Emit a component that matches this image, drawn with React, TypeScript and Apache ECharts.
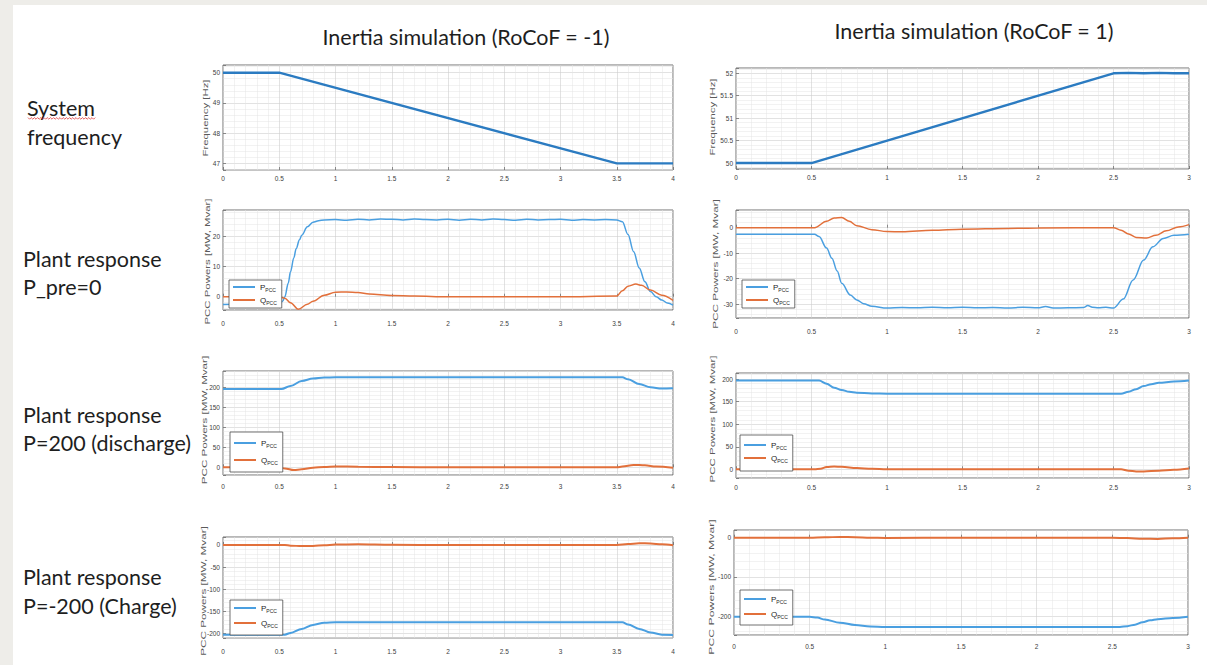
import { useEffect, useRef } from "react";
import * as echarts from "echarts";

// ---------- tick labels ----------
const xTicksRoCoFMinus = [0, 0.5, 1, 1.5, 2, 2.5, 3, 3.5, 4];
const xTicksRoCoFPlus = [0, 0.5, 1, 1.5, 2, 2.5, 3];
const freqTicksMinus = [47, 48, 49, 50];
const freqTicksPlus = [50, 50.5, 51, 51.5, 52];
const pre0TicksMinus = [0, 10, 20];
const pre0TicksPlus = [-30, -20, -10, 0];
const dis200TicksMinus = [0, 50, 100, 150, 200];
const dis200TicksPlus = [0, 50, 100, 150, 200];
const chg200TicksMinus = [-200, -150, -100, -50, 0];
const chg200TicksPlus = [-200, -100, 0];

// ---------- text ----------
const columnTitles = ["Inertia simulation (RoCoF = -1)", "Inertia simulation (RoCoF = 1)"];
const rowLabels = [
  ["System", "frequency"],
  ["Plant response", "P_pre=0"],
  ["Plant response", "P=200 (discharge)"],
  ["Plant response", "P=-200 (Charge)"],
];

// ---------- system frequency ----------
const freqMinusTime = [0, 0.5, 3.5, 4];
const freqMinusHz = [50, 50, 47, 47];
const freqPlusTime = [0, 0.5, 2.5, 2.6, 2.7, 2.8, 2.9, 3];
const freqPlusHz = [50, 50, 52, 52.01, 52, 52.01, 52, 52];

// ---------- P_pre = 0 ----------
const pre0MinusPTime = [0, 0.1, 0.2, 0.3, 0.4, 0.5, 0.53, 0.55, 0.58, 0.6, 0.63, 0.65, 0.68, 0.7, 0.75, 0.8, 0.85, 0.9, 1.0, 1.1, 1.2, 1.3, 1.4, 1.5, 1.6, 1.7, 1.8, 1.9, 2.0, 2.1, 2.2, 2.3, 2.4, 2.5, 2.6, 2.7, 2.8, 2.9, 3.0, 3.1, 3.2, 3.3, 3.4, 3.5, 3.55, 3.6, 3.65, 3.7, 3.75, 3.8, 3.85, 3.9, 3.95, 4.0];
const pre0MinusP = [-2.6, -2.5, -2.6, -2.5, -2.6, -2.6, -1.5, 0, 4.5, 8.3, 13, 16, 19, 20.5, 23.3, 24.8, 25.3, 25.6, 25.7, 25.5, 25.8, 25.6, 25.9, 25.8, 25.6, 25.9, 25.7, 25.6, 25.8, 25.5, 25.8, 25.6, 25.9, 25.7, 25.5, 25.8, 25.6, 25.7, 25.8, 25.5, 25.7, 25.6, 25.7, 25.6, 25, 20.7, 15, 9.6, 5, 1.7, 0, -1.1, -2.1, -2.8];
const pre0MinusQTime = [0, 0.5, 0.55, 0.6, 0.67, 0.75, 0.8, 0.9, 1.0, 1.1, 1.2, 1.3, 1.5, 1.7, 2.0, 2.5, 3.0, 3.5, 3.55, 3.6, 3.67, 3.72, 3.8, 3.9, 4.0];
const pre0MinusQ = [0, 0, -0.5, -2, -4.2, -2.5, -1.5, 0.5, 1.5, 1.6, 1.4, 0.9, 0.4, 0.2, 0, 0, 0, 0.2, 2, 3.5, 4.2, 3.8, 2.2, 0.5, -1.2];

const pre0PlusPTime = [0, 0.25, 0.52, 0.55, 0.6, 0.635, 0.67, 0.7, 0.757, 0.8, 0.845, 0.9, 1.0, 1.1, 1.2, 1.3, 1.4, 1.5, 1.6, 1.7, 1.8, 1.9, 2.0, 2.05, 2.1, 2.2, 2.3, 2.33, 2.36, 2.4, 2.45, 2.5, 2.565, 2.63, 2.7, 2.76, 2.83, 2.9, 3.0];
const pre0PlusP = [-2.6, -2.6, -2.6, -3.5, -8, -12, -17, -21.8, -26.4, -28.3, -29.8, -30.8, -31.5, -31.3, -31.4, -31.2, -31.4, -31.2, -31.4, -31.3, -31.5, -31.2, -31.4, -30.9, -31.5, -31.4, -31.3, -30.5, -31.2, -31.4, -31.2, -31.5, -28, -20.5, -12.7, -7.5, -4.2, -3, -2.6];
const pre0PlusQTime = [0, 0.52, 0.6, 0.65, 0.7, 0.75, 0.8, 0.9, 1.0, 1.1, 1.3, 1.5, 1.8, 2.0, 2.5, 2.55, 2.6, 2.65, 2.72, 2.78, 2.85, 2.93, 3.0];
const pre0PlusQ = [0, 0, 2.5, 3.8, 4, 2.5, 0.8, -0.8, -1.5, -1.6, -1.0, -0.6, -0.3, -0.1, 0, -1, -2.5, -3.8, -4, -3, -1.2, 0.3, 1.2];

// ---------- P = 200 (discharge) ----------
const dis200MinusPTime = [0, 0.52, 0.6, 0.7, 0.8, 0.9, 1.0, 2.0, 3.0, 3.55, 3.6, 3.7, 3.8, 3.9, 4.0];
const dis200MinusP = [196, 196, 203, 216, 222, 224.5, 225, 225, 225, 225, 220, 208, 200, 197, 197.5];
const dis200MinusQTime = [0, 0.5, 0.55, 0.63, 0.7, 0.8, 0.9, 1.0, 1.2, 1.5, 2.0, 3.5, 3.55, 3.65, 3.75, 3.85, 4.0];
const dis200MinusQ = [0, 0, -3, -7, -5, -1, 1, 2, 1.5, 0.5, 0, 0, 2, 6, 5, 2, -1];

const dis200PlusPTime = [0, 0.55, 0.6, 0.65, 0.7, 0.75, 0.8, 0.9, 1.0, 2.0, 2.55, 2.6, 2.65, 2.7, 2.75, 2.8, 2.9, 3.0];
const dis200PlusP = [197, 197, 190, 181, 176, 172, 170, 168.5, 168, 168, 168, 172, 178, 185, 189, 192, 195, 197];
const dis200PlusQTime = [0, 0.52, 0.56, 0.6, 0.65, 0.7, 0.8, 0.9, 1.0, 1.5, 2.55, 2.6, 2.65, 2.7, 2.8, 2.9, 3.0];
const dis200PlusQ = [0, 0, 1.5, 5, 6, 5.5, 3, 1, 0, 0, 0, -3, -5, -5, -3, -1, 2];

// ---------- P = -200 (charge) ----------
const chg200MinusPTime = [0, 0.55, 0.6, 0.7, 0.8, 0.9, 1.0, 2.0, 3.0, 3.55, 3.6, 3.7, 3.8, 3.9, 4.0];
const chg200MinusP = [-203, -203, -199, -190, -181, -176, -175, -175, -175, -175, -180, -190, -198, -203, -204];
const chg200MinusQTime = [0, 0.55, 0.6, 0.7, 0.8, 0.9, 1.0, 1.2, 1.5, 2.0, 3.5, 3.6, 3.7, 3.8, 3.9, 4.0];
const chg200MinusQ = [0, 0, -1.5, -2.5, -2, -0.5, 1, 1.5, 0.5, 0, 0, 2, 4, 3.5, 1.5, -0.5];

const chg200PlusPTime = [0, 0.5, 0.55, 0.6, 0.7, 0.8, 0.9, 1.0, 2.0, 2.55, 2.6, 2.65, 2.7, 2.75, 2.8, 2.9, 3.0];
const chg200PlusP = [-202, -202, -204, -209, -217, -223, -226.5, -228, -228, -228, -226, -222, -216, -211, -208, -205, -202];
const chg200PlusQTime = [0, 0.5, 0.6, 0.7, 0.8, 0.9, 1.0, 1.5, 2.0, 2.5, 2.6, 2.7, 2.8, 2.9, 3.0];
const chg200PlusQ = [0, 0, 1, 2, 1.5, 0, -0.5, -0.3, 0, 0, -1, -2.5, -3, -1.5, 0];

// ---------- styles ----------
const FREQ_BLUE = "#2b7bc1";
const P_BLUE = "#4a9fe0";
const Q_ORANGE = "#e2703b";
const FONT = "Liberation Sans";

type Line = { name: string; t: number[]; v: number[]; color: string; width: number; smooth: boolean };
type Panel = {
  box: [number, number, number, number];
  xTicks: number[];
  yTicks: number[];
  yMin: number;
  yMax: number;
  xMargin: number;
  lines: Line[];
  legend?: { left: number; top: number; gap: number; pt: number; pb: number };
  yName: { text: string; x: number; y: number; size: number; scale: number };
};

const pq = (pt: number[], pv: number[], qt: number[], qv: number[], w: number): Line[] => [
  { name: "P", t: pt, v: pv, color: P_BLUE, width: w, smooth: true },
  { name: "Q", t: qt, v: qv, color: Q_ORANGE, width: w, smooth: true },
];

const PCC = "PCC Powers [MW, Mvar]";
const FREQ = "Frequency [Hz]";

const panels: Panel[] = [
  {
    box: [223, 65, 450, 105], xTicks: xTicksRoCoFMinus, yTicks: freqTicksMinus, yMin: 46.78, yMax: 50.255, xMargin: 4.5,
    lines: [{ name: "f", t: freqMinusTime, v: freqMinusHz, color: FREQ_BLUE, width: 2.4, smooth: false }],
    yName: { text: FREQ, x: 205.5, y: 118, size: 6.5, scale: 1.75 },
  },
  {
    box: [736, 68, 453, 101], xTicks: xTicksRoCoFPlus, yTicks: freqTicksPlus, yMin: 49.867, yMax: 52.118, xMargin: 5,
    lines: [{ name: "f", t: freqPlusTime, v: freqPlusHz, color: FREQ_BLUE, width: 2.4, smooth: false }],
    yName: { text: FREQ, x: 713, y: 117, size: 6.5, scale: 1.75 },
  },
  {
    box: [223, 210, 450, 100], xTicks: xTicksRoCoFMinus, yTicks: pre0TicksMinus, yMin: -4.43, yMax: 28.9, xMargin: 9.5,
    lines: pq(pre0MinusPTime, pre0MinusP, pre0MinusQTime, pre0MinusQ, 1.5),
    legend: { left: 229, top: 280, gap: 4, pt: 3, pb: 3 },
    yName: { text: PCC, x: 207, y: 261.5, size: 7, scale: 1.63 },
  },
  {
    box: [736, 210, 453, 108], xTicks: xTicksRoCoFPlus, yTicks: pre0TicksPlus, yMin: -35.4, yMax: 6.93, xMargin: 10,
    lines: pq(pre0PlusPTime, pre0PlusP, pre0PlusQTime, pre0PlusQ, 1.5),
    legend: { left: 742, top: 280, gap: 4, pt: 3, pb: 3 },
    yName: { text: PCC, x: 715, y: 264, size: 7, scale: 1.68 },
  },
  {
    box: [223, 371, 450, 104], xTicks: xTicksRoCoFMinus, yTicks: dis200TicksMinus, yMin: -19.25, yMax: 240.75, xMargin: 8,
    lines: pq(dis200MinusPTime, dis200MinusP, dis200MinusQTime, dis200MinusQ, 2),
    legend: { left: 230, top: 432, gap: 8, pt: 7, pb: 7 },
    yName: { text: PCC, x: 204, y: 420, size: 7, scale: 1.66 },
  },
  {
    box: [736, 373, 453, 105], xTicks: xTicksRoCoFPlus, yTicks: dis200TicksPlus, yMin: -19.3, yMax: 213.8, xMargin: 6,
    lines: pq(dis200PlusPTime, dis200PlusP, dis200PlusQTime, dis200PlusQ, 2),
    legend: { left: 740, top: 435, gap: 4, pt: 6, pb: 8 },
    yName: { text: PCC, x: 712.5, y: 419, size: 7, scale: 1.64 },
  },
  {
    box: [223, 537, 450, 101], xTicks: xTicksRoCoFMinus, yTicks: chg200TicksMinus, yMin: -210.6, yMax: 18.1, xMargin: 10,
    lines: pq(chg200MinusPTime, chg200MinusP, chg200MinusQTime, chg200MinusQ, 2),
    legend: { left: 230, top: 600, gap: 6, pt: 4, pb: 7 },
    yName: { text: PCC, x: 203.5, y: 591, size: 7, scale: 1.68 },
  },
  {
    box: [734, 530, 454, 105], xTicks: xTicksRoCoFPlus, yTicks: chg200TicksPlus, yMin: -248.5, yMax: 19.7, xMargin: 8,
    lines: pq(chg200PlusPTime, chg200PlusP, chg200PlusQTime, chg200PlusQ, 2),
    legend: { left: 740, top: 590, gap: 6, pt: 5, pb: 6 },
    yName: { text: PCC, x: 711.5, y: 587, size: 7, scale: 1.75 },
  },
];

const fmtNum = (v: number) => String(Math.round(v * 1000) / 1000);
const tickFormatter = (ticks: number[]) => (v: number) =>
  ticks.some((t) => Math.abs(t - v) < 1e-6) ? fmtNum(v) : "";

function buildOption() {
  const grid: any[] = [];
  const xAxis: any[] = [];
  const yAxis: any[] = [];
  const series: any[] = [];
  const legend: any[] = [];
  const graphic: any[] = [];

  const majorLine = { color: "#cfcfcf", width: 0.6 };
  const minorLine = { color: "#e4e4e4", width: 0.5 };
  const tick = { show: true, inside: true, length: 3, lineStyle: { color: "#4d4d4d", width: 0.6 } };
  const label = { fontSize: 6.5, color: "#404040", fontFamily: FONT };

  panels.forEach((p, i) => {
    grid.push({
      left: p.box[0], top: p.box[1], width: p.box[2], height: p.box[3],
      show: true, borderColor: "#4d4d4d", borderWidth: 0.8, backgroundColor: "#ffffff",
      containLabel: false, outerBoundsMode: "none",
    });
    const xStep = p.xTicks[1] - p.xTicks[0];
    xAxis.push({
      type: "value", gridIndex: i, min: p.xTicks[0], max: p.xTicks[p.xTicks.length - 1],
      minInterval: xStep, maxInterval: xStep, splitNumber: 8,
      axisLine: { show: false }, axisTick: tick,
      splitLine: { show: true, lineStyle: majorLine },
      minorTick: { show: false, splitNumber: 5 },
      minorSplitLine: { show: true, lineStyle: minorLine },
      axisLabel: { ...label, margin: p.xMargin, formatter: tickFormatter(p.xTicks) },
    });
    const yStep = p.yTicks[1] - p.yTicks[0];
    yAxis.push({
      type: "value", gridIndex: i, min: p.yMin, max: p.yMax,
      minInterval: yStep, maxInterval: yStep, splitNumber: 4,
      axisLine: { show: false }, axisTick: tick,
      splitLine: { show: true, lineStyle: majorLine },
      minorTick: { show: false, splitNumber: 5 },
      minorSplitLine: { show: true, lineStyle: minorLine },
      axisLabel: { ...label, margin: 3, formatter: tickFormatter(p.yTicks) },
    });
    p.lines.forEach((l) => {
      series.push({
        type: "line", name: l.name, xAxisIndex: i, yAxisIndex: i,
        data: l.t.map((t, k) => [t, l.v[k]]),
        symbol: "none", showSymbol: false, smooth: l.smooth ? 0.35 : false,
        smoothMonotone: "x",
        lineStyle: { color: l.color, width: l.width }, itemStyle: { color: l.color },
        emphasis: { disabled: true }, silent: true,
      });
    });
    if (p.legend) {
      const lg = p.legend;
      legend.push({
        show: true, left: lg.left, top: lg.top, orient: "vertical", data: ["P", "Q"],
        selectedMode: false, backgroundColor: "#ffffff", borderColor: "#4d4d4d", borderWidth: 0.8,
        borderRadius: 0, padding: [lg.pt, 5, lg.pb, 3], itemGap: lg.gap, itemWidth: 22, itemHeight: 10,
        itemStyle: { opacity: 0 },
        formatter: (n: string) => `{m|${n}}{s|PCC}`,
        textStyle: {
          rich: {
            m: { fontSize: 8, fontFamily: FONT, color: "#262626", lineHeight: 10, verticalAlign: "middle" },
            s: { fontSize: 5, fontFamily: FONT, color: "#262626", lineHeight: 10, verticalAlign: "bottom" },
          },
        },
      });
    }
    graphic.push({
      type: "text", x: p.yName.x, y: p.yName.y, rotation: Math.PI / 2, scaleX: p.yName.scale, silent: true,
      style: { text: p.yName.text, fontSize: p.yName.size, fontFamily: FONT, fill: "#5a5a5a", align: "center", verticalAlign: "middle" },
    });
  });

  // page background strips
  graphic.unshift(
    { type: "rect", silent: true, shape: { x: 0, y: 0, width: 13, height: 665 }, style: { fill: "#eeede9" } },
    { type: "rect", silent: true, shape: { x: 0, y: 0, width: 1207, height: 5 }, style: { fill: "#eeede9" } },
  );

  // column titles
  const titlePos = [[466, 37], [974, 31]];
  columnTitles.forEach((t, i) => {
    graphic.push({
      type: "text", x: titlePos[i][0], y: titlePos[i][1], silent: true,
      style: { text: t, fontSize: 21.5, fontFamily: "Lato", fill: "#1e1e1e", align: "center", verticalAlign: "middle" },
    });
  });

  // row labels
  const rowPos = [[27, 108, 137], [23, 259, 287], [23, 415, 443], [23, 577, 606]];
  rowLabels.forEach((lines, i) => {
    lines.forEach((t, k) => {
      graphic.push({
        type: "text", x: rowPos[i][0], y: rowPos[i][1 + k], silent: true,
        style: { text: t, fontSize: 21.5, fontFamily: "Lato", fill: "#1e1e1e", align: "left", verticalAlign: "middle" },
      });
    });
  });

  // spell-check wavy underline under "System"
  const wave: number[][] = [];
  for (let x = 28, k = 0; x <= 96; x += 1.6, k++) wave.push([x, k % 2 === 0 ? 117.6 : 119.2]);
  graphic.push({ type: "polyline", silent: true, shape: { points: wave }, style: { stroke: "#e03a3a", lineWidth: 0.8, fill: null } });

  return {
    animation: false,
    backgroundColor: "#ffffff",
    textStyle: { fontFamily: FONT },
    grid, xAxis, yAxis, series, legend, graphic,
  };
}

export default function App() {
  const ref = useRef<HTMLDivElement>(null);
  useEffect(() => {
    if (!ref.current) return;
    const chart = echarts.init(ref.current, undefined, { renderer: "svg" });
    chart.setOption(buildOption() as any);
    return () => chart.dispose();
  }, []);
  return <div ref={ref} style={{ position: "fixed", left: 0, top: 0, width: 1207, height: 665 }} />;
}
